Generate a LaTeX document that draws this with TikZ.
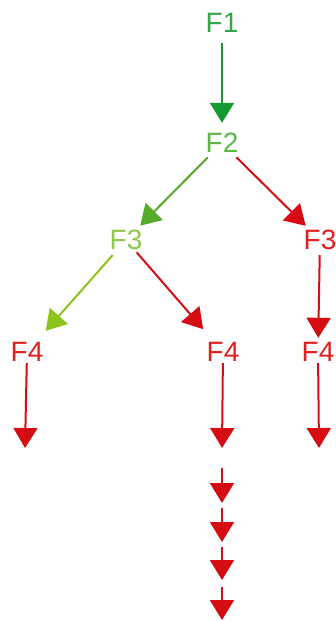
\documentclass[tikz,border=0pt]{standalone}
\usepackage{fontspec}
\setmainfont{Liberation Sans}
\usetikzlibrary{arrows.meta}
\definecolor{fonetext}{HTML}{33A64A}
\definecolor{fonearrow}{HTML}{139A30}
\definecolor{ftwotext}{HTML}{5DB548}
\definecolor{greenarrow}{HTML}{55AA2A}
\definecolor{fthreetext}{HTML}{8DC84A}
\definecolor{lightarrow}{HTML}{8CC31E}
\definecolor{redtext}{HTML}{E02020}
\definecolor{redarrow}{HTML}{D50D12}
\tikzset{
  fnode/.style={circle, inner sep=0pt, minimum size=40pt, font=\fontsize{28}{28}\selectfont},
  conn/.style={line width=2pt, -{Triangle[width=24pt,length=20pt]}},
}
\begin{document}
\begin{tikzpicture}[x=1pt,y=-1pt]
\useasboundingbox (0,0) rectangle (335,621);
\node[fnode, text=fonetext] (f1) at (222,23) {F1};
\node[fnode, text=ftwotext] (f2) at (222,143) {F2};
\node[fnode, text=fthreetext] (f3l) at (126,240) {F3};
\node[fnode, text=redtext] (f3r) at (320,240) {F3};
\node[fnode, text=redtext] (f4l) at (27,352) {F4};
\node[fnode, text=redtext] (f4m) at (223,352) {F4};
\node[fnode, text=redtext] (f4r) at (318,352) {F4};
\coordinate (el) at (25,448);
\coordinate (em) at (222,448);
\coordinate (er) at (319,448);
\coordinate (c1s) at (222,468);
\coordinate (c1e) at (222,503);
\coordinate (c2s) at (222,508);
\coordinate (c2e) at (222,542);
\coordinate (c3s) at (222,547);
\coordinate (c3e) at (222,580);
\coordinate (c4s) at (222,587);
\coordinate (c4e) at (222,620);
\draw[conn, fonearrow] (f1) -- (f2);
\draw[conn, greenarrow] (f2) -- (f3l);
\draw[conn, redarrow] (f2) -- (f3r);
\draw[conn, lightarrow, shorten >=8pt] (f3l) -- (f4l);
\draw[conn, redarrow, shorten <=-4pt, shorten >=10pt] (f3l) -- (f4m);
\draw[conn, redarrow, shorten <=-5pt, shorten >=-6pt] (f3r) -- (f4r);
\draw[conn, redarrow, shorten <=-9pt] (f4l) -- (el);
\draw[conn, redarrow, shorten <=-9pt] (f4m) -- (em);
\draw[conn, redarrow, shorten <=-9pt] (f4r) -- (er);
\draw[conn, redarrow] (c1s) -- (c1e);
\draw[conn, redarrow] (c2s) -- (c2e);
\draw[conn, redarrow] (c3s) -- (c3e);
\draw[conn, redarrow] (c4s) -- (c4e);
\end{tikzpicture}
\end{document}
